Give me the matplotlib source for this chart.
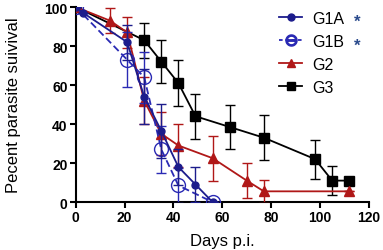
import numpy as np
import matplotlib.pyplot as plt
from matplotlib.lines import Line2D

plt.rcParams['font.family'] = ['Liberation Sans', 'DejaVu Sans']

# G1A
g1a_days = [0, 3, 21, 28, 35, 42, 49, 56]
g1a_surv = [100, 97, 82, 54, 36.5, 18, 9, 0]
g1a_err = [0, 0, 9, 14, 14, 9, 9, 0]

# G1B
g1b_days = [0, 21, 28, 35, 42, 56]
g1b_surv = [100, 73, 64, 27, 8.5, 0]
g1b_err = [0, 14, 13, 12, 9, 0]

# G2
g2_days = [0, 14, 21, 28, 35, 42, 56, 70, 77, 112]
g2_surv = [100, 93, 87, 52, 35, 29, 22.5, 11, 5.5, 5.5]
g2_err = [0, 6.5, 8, 12, 11, 11, 11.5, 9, 6, 0]

# G3
g3_days = [0, 28, 35, 42, 49, 63, 77, 98, 105, 112]
g3_surv = [100, 83, 72, 61, 44, 38.5, 33, 22, 11, 11]
g3_err = [0, 9, 11, 12, 11.5, 11.5, 11.5, 10, 7.5, 0]

labels = ['G1A', 'G1B', 'G2', 'G3']

c_g1a = '#1c1c8c'
c_g1b = '#2a2ab4'
c_g2 = '#b01818'
c_g3 = 'black'

fig = plt.figure(figsize=(3.83, 2.51), dpi=100)
ax = fig.add_axes([0.198, 0.191, 0.765, 0.777])

ax.errorbar(g3_days, g3_surv, yerr=g3_err, color=c_g3, marker='s', ms=6.5,
            lw=1.3, elinewidth=1, capsize=3.5, zorder=2)
ax.errorbar(g2_days, g2_surv, yerr=g2_err, color=c_g2, marker='^', ms=6.5,
            lw=1.3, elinewidth=1, capsize=3.5, zorder=3)
ax.errorbar(g1b_days, g1b_surv, yerr=g1b_err, color=c_g1b, marker='o', ms=10,
            mfc='none', mew=1, ls='--', dashes=(4, 2), lw=1.3, elinewidth=1,
            capsize=3.5, zorder=4)
ax.errorbar(g1a_days, g1a_surv, yerr=g1a_err, color=c_g1a, marker='o', ms=5,
            lw=1.3, elinewidth=1, capsize=3.5, zorder=5)

ax.set_xlim(0, 120)
ax.set_ylim(0, 100)
ax.set_xticks(np.arange(0, 121, 20))
ax.set_yticks(np.arange(0, 101, 20))
ax.spines['top'].set_visible(False)
ax.spines['right'].set_visible(False)
ax.spines['left'].set_linewidth(1.5)
ax.spines['bottom'].set_linewidth(1.5)
ax.tick_params(direction='out', length=4, width=1.5, labelsize=10, pad=2)
for lab in ax.get_xticklabels() + ax.get_yticklabels():
    lab.set_fontweight('bold')
ax.set_xlabel('Days p.i.', fontsize=12, labelpad=6)
ax.set_ylabel('Pecent parasite suivival', fontsize=12, labelpad=17)

handles = [
    Line2D([], [], color=c_g1a, marker='o', ms=5, lw=1.3),
    Line2D([], [], color=c_g1b, marker='$\\ominus$', ms=8, lw=1.3, ls='--',
           dashes=(2, 1.5)),
    Line2D([], [], color=c_g2, marker='^', ms=5.5, lw=1.3),
    Line2D([], [], color=c_g3, marker='s', ms=5.5, lw=1.3),
]
fig.legend(handles, labels, loc='upper left',
           bbox_to_anchor=(279 / 383, 1 - 12 / 251), frameon=False,
           fontsize=11.5, handlelength=1.45, labelspacing=0.5,
           handletextpad=0.65, borderpad=0, borderaxespad=0)

# asterisks after G1A and G1B
for ypix in [22, 46]:
    fig.text(357 / 383, 1 - ypix / 251, '*', color='#2a4a8c', fontsize=12,
             fontweight='bold', ha='center', va='center')

fig.savefig('out.png', dpi=100)
